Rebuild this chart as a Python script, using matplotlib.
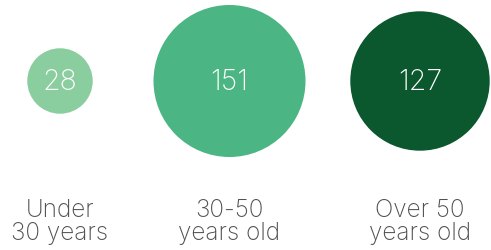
import numpy as np
import matplotlib.pyplot as plt
from matplotlib.patches import Circle

# datos
grupos = ['Under\n30 years', '30-50\nyears old', 'Over 50\nyears old']
valores = [28, 151, 127]
colores = ['#8ACD9E', '#4BB583', '#0B572E']

# posiciones en pixeles
xs = [60, 229.5, 420]
yc = 82
rmax = 76

fig = plt.figure(figsize=(4.91, 2.51), dpi=100)
ax = fig.add_axes([0, 0, 1, 1])
ax.set_xlim(0, 491)
ax.set_ylim(251, 0)
ax.set_aspect('equal')
ax.axis('off')

for i in range(len(valores)):
    r = rmax * np.sqrt(valores[i] / max(valores))
    ax.add_patch(Circle((xs[i], yc), r, color=colores[i], lw=0))
    ax.text(xs[i], yc + 1, str(valores[i]), color='white', fontsize=20.5,
            family='Inter', fontweight='light', ha='center', va='center')
    ax.text(xs[i], 222, grupos[i], color='#505050', fontsize=17.5,
            family='Inter', fontweight='light', ha='center', va='center',
            linespacing=1.05)

plt.savefig('out.png', dpi=100)
